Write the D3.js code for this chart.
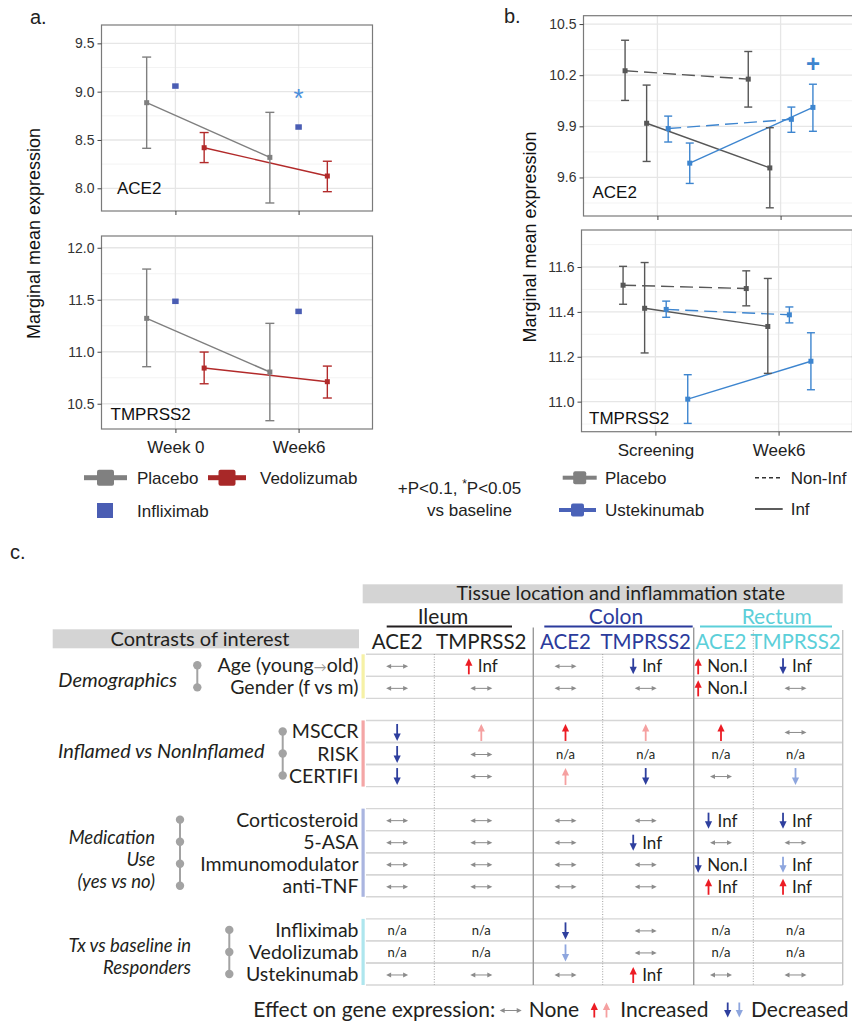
<!DOCTYPE html>
<html><head><meta charset="utf-8">
<script src="https://cdn.jsdelivr.net/npm/d3@7"></script>
<style>body{margin:0;background:#fff}svg{display:block}</style>
</head><body>
<svg id="c" width="852" height="1024"></svg>
<script>
// ---------------- DATA: panel a ----------------
const aTimes = ["Week 0", "Week6"];
const aSeries = ["Placebo", "Infliximab", "Vedolizumab"];
const aAce2Mean = [[8.886, 8.32], [9.058, 8.634], [8.42, 8.127]];
const aAce2Low  = [[8.414, 7.848], [null, null], [8.266, 7.965]];
const aAce2High = [[9.358, 8.786], [null, null], [8.577, 8.28]];
const aTmpMean = [[11.321, 10.805], [11.485, 11.388], [10.843, 10.712]];
const aTmpLow  = [[10.856, 10.337], [null, null], [10.692, 10.555]];
const aTmpHigh = [[11.795, 11.273], [null, null], [10.997, 10.862]];
const aAce2Ticks = [8.0, 8.5, 9.0, 9.5];
const aAce2Minor = [8.25, 8.75, 9.25];
const aTmpTicks = [10.5, 11.0, 11.5, 12.0];
const aTmpMinor = [10.75, 11.25, 11.75];
const aSig = [{gene: "ACE2", series: 1, time: 1, mark: "*", value: 9.0}];

// ---------------- DATA: panel b ----------------
const bTimes = ["Screening", "Week6"];
const bSeries = ["Placebo Non-Inf", "Placebo Inf", "Ustekinumab Non-Inf", "Ustekinumab Inf"];
const bAce2Mean = [[10.226, 10.177], [9.918, 9.656], [9.887, 9.941], [9.684, 10.011]];
const bAce2Low  = [[10.052, 10.013], [9.694, 9.422], [9.808, 9.865], [9.565, 9.871]];
const bAce2High = [[10.405, 10.339], [10.142, 9.892], [9.96, 10.013], [9.802, 10.147]];
const bTmpMean = [[11.519, 11.504], [11.416, 11.335], [11.411, 11.387], [11.011, 11.18]];
const bTmpLow  = [[11.434, 11.427], [11.217, 11.126], [11.376, 11.351], [10.903, 11.053]];
const bTmpHigh = [[11.603, 11.583], [11.62, 11.549], [11.448, 11.422], [11.12, 11.307]];
const bAce2Ticks = [9.6, 9.9, 10.2, 10.5];
const bAce2Minor = [9.45, 9.75, 10.05, 10.35];
const bTmpTicks = [11.0, 11.2, 11.4, 11.6];
const bTmpMinor = [10.9, 11.1, 11.3, 11.5, 11.7];
const bSig = [{gene: "ACE2", series: 3, time: 1, mark: "+", value: 10.263}];

// ---------------- DATA: panel c ----------------
const tissues = ["Ileum", "Colon", "Rectum"];
const genes = ["ACE2", "TMPRSS2"];
const contrastGroupLines = [["Demographics"], ["Inflamed vs NonInflamed"], ["Medication", "Use", "(yes vs no)"], ["Tx vs baseline in", "Responders"]];
const contrastRows = ["Age (young→old)", "Gender (f vs m)", "MSCCR", "RISK", "CERTIFI", "Corticosteroid", "5-ASA", "Immunomodulator", "anti-TNF", "Infliximab", "Vedolizumab", "Ustekinumab"];
const rowGroup = [0, 0, 1, 1, 1, 2, 2, 2, 2, 3, 3, 3];
// effect codes: none, na, up, upL (light), down, downL (light); ":label" adds text
const cellEffects = [
  ["none", "up:Inf", "none", "down:Inf", "up:Non.I", "down:Inf"],
  ["none", "none", "none", "none", "up:Non.I", "none"],
  ["down", "upL", "up", "upL", "up", "none"],
  ["down", "none", "na", "na", "na", "na"],
  ["down", "none", "upL", "down", "none", "downL"],
  ["none", "none", "none", "none", "down:Inf", "down:Inf"],
  ["none", "none", "none", "down:Inf", "none", "none"],
  ["none", "none", "none", "none", "down:Non.I", "downL:Inf"],
  ["none", "none", "none", "none", "up:Inf", "up:Inf"],
  ["na", "na", "down", "none", "na", "na"],
  ["na", "na", "downL", "none", "na", "na"],
  ["none", "none", "none", "up:Inf", "none", "none"]
];

// ---------------- drawing ----------------
const svg = d3.select("#c");
const SANS = "'Liberation Sans', Arial, sans-serif";
const TF = "Lato, 'Open Sans', sans-serif";

function panel(cfg) {
  const g = svg.append("g");
  const x = d3.scalePoint().domain(cfg.times).range([cfg.x0, cfg.x1]).padding(0.6);
  const y = d3.scaleLinear().domain(cfg.domain).range([cfg.y1, cfg.y0]);
  const k = cfg.mean.length, step = x.step();
  const off = i => (i - (k - 1) / 2) * 0.7 / k * step;
  g.append("rect").attr("x", cfg.x0).attr("y", cfg.y0).attr("width", cfg.x1 - cfg.x0).attr("height", cfg.y1 - cfg.y0).attr("fill", "#fff");
  g.selectAll(".mn").data(cfg.minor).join("line")
    .attr("x1", cfg.x0).attr("x2", cfg.x1).attr("y1", d => y(d)).attr("y2", d => y(d))
    .attr("stroke", "#f0f0f0").attr("stroke-width", 0.8);
  g.selectAll(".mj").data(cfg.ticks).join("line")
    .attr("x1", cfg.x0).attr("x2", cfg.x1).attr("y1", d => y(d)).attr("y2", d => y(d))
    .attr("stroke", "#e6e6e6").attr("stroke-width", 1.3);
  g.selectAll(".vx").data(cfg.times).join("line")
    .attr("x1", d => x(d)).attr("x2", d => x(d)).attr("y1", cfg.y0).attr("y2", cfg.y1)
    .attr("stroke", "#e6e6e6").attr("stroke-width", 1.3);
  // lines
  cfg.mean.forEach((m, i) => {
    if (!cfg.lines[i]) return;
    const pts = cfg.times.map((t, j) => [x(t) + off(i), y(m[j])]);
    g.append("path").attr("d", d3.line()(pts)).attr("fill", "none")
      .attr("stroke", cfg.colors[i]).attr("stroke-width", 1.4)
      .attr("stroke-dasharray", cfg.dash[i] ? "13,6" : null);
  });
  // error bars
  cfg.mean.forEach((m, i) => {
    cfg.times.forEach((t, j) => {
      const lo = cfg.low[i][j], hi = cfg.high[i][j];
      if (lo == null) return;
      const cx = x(t) + off(i);
      const eg = g.append("g").attr("stroke", cfg.colors[i]).attr("stroke-width", 1.4);
      eg.append("line").attr("x1", cx).attr("x2", cx).attr("y1", y(lo)).attr("y2", y(hi));
      eg.append("line").attr("x1", cx - cfg.cap).attr("x2", cx + cfg.cap).attr("y1", y(lo)).attr("y2", y(lo));
      eg.append("line").attr("x1", cx - cfg.cap).attr("x2", cx + cfg.cap).attr("y1", y(hi)).attr("y2", y(hi));
    });
  });
  // points
  cfg.mean.forEach((m, i) => {
    const s = cfg.pt[i];
    g.selectAll(null).data(cfg.times).join("rect")
      .attr("x", (t) => x(t) + off(i) - s[0] / 2)
      .attr("y", (t, j) => y(m[j]) - s[1] / 2)
      .attr("width", s[0]).attr("height", s[1]).attr("fill", cfg.colors[i]);
  });
  // significance marks
  (cfg.sig || []).forEach(sg => {
    const cx = x(cfg.times[sg.time]) + off(sg.series);
    const fs = sg.mark === "*" ? 26 : 24;
    const yOff = sg.mark === "*" ? 0.58 * fs : 0.33 * fs;
    g.append("text").attr("x", cx).attr("y", y(sg.value) + yOff).attr("text-anchor", "middle")
      .attr("font-family", SANS).attr("font-size", fs).attr("font-weight", sg.mark === "+" ? "bold" : "normal")
      .attr("fill", cfg.sigColor).text(sg.mark);
  });
  // border
  g.append("rect").attr("x", cfg.x0).attr("y", cfg.y0).attr("width", cfg.x1 - cfg.x0).attr("height", cfg.y1 - cfg.y0)
    .attr("fill", "none").attr("stroke", "#7a7a7a").attr("stroke-width", 1.2);
  // axes
  const ya = g.append("g").attr("transform", `translate(${cfg.x0},0)`)
    .call(d3.axisLeft(y).tickValues(cfg.ticks).tickFormat(d3.format(".1f")).tickSize(4).tickPadding(3));
  ya.select(".domain").remove();
  ya.selectAll("text").attr("font-family", SANS).attr("font-size", 14).attr("fill", "#333");
  ya.selectAll("line").attr("stroke", "#444");
  const xa = g.append("g").attr("transform", `translate(0,${cfg.y1})`)
    .call(d3.axisBottom(x).tickSize(4).tickPadding(8));
  xa.select(".domain").remove();
  xa.selectAll("line").attr("stroke", "#444");
  if (cfg.showX) xa.selectAll("text").attr("font-family", SANS).attr("font-size", 17).attr("fill", "#222");
  else xa.selectAll("text").remove();
  // gene label
  g.append("text").attr("x", cfg.x0 + cfg.lab[0]).attr("y", cfg.y1 - cfg.lab[1])
    .attr("font-family", SANS).attr("font-size", 17).attr("fill", "#111").text(cfg.gene);
}

const aCol = ["#7f7f7f", "#4a5db3", "#b22a2a"];
const aPt = [[5, 5], [6.5, 5.5], [5, 5]];
panel({times: aTimes, mean: aAce2Mean, low: aAce2Low, high: aAce2High, lines: [1, 0, 1], dash: [0, 0, 0],
  colors: aCol, pt: aPt, cap: 4.5, x0: 101.5, x1: 372.5, y0: 25, y1: 211, domain: [7.765, 9.69],
  ticks: aAce2Ticks, minor: aAce2Minor, showX: false, gene: "ACE2", lab: [15.5, 17],
  sig: aSig, sigColor: "#4a8fdb"});
panel({times: aTimes, mean: aTmpMean, low: aTmpLow, high: aTmpHigh, lines: [1, 0, 1], dash: [0, 0, 0],
  colors: aCol, pt: aPt, cap: 4.5, x0: 101.5, x1: 372.5, y0: 236, y1: 429, domain: [10.257, 12.113],
  ticks: aTmpTicks, minor: aTmpMinor, showX: true, gene: "TMPRSS2", lab: [9, 9]});

const bCol = ["#575757", "#575757", "#3d85cf", "#3d85cf"];
const bPt = [[5, 5], [5, 5], [5, 5], [5, 5]];
panel({times: bTimes, mean: bAce2Mean, low: bAce2Low, high: bAce2High, lines: [1, 1, 1, 1], dash: [1, 0, 1, 0],
  colors: bCol, pt: bPt, cap: 4, x0: 583.5, x1: 854.5, y0: 15.7, y1: 216, domain: [9.374, 10.549],
  ticks: bAce2Ticks, minor: bAce2Minor, showX: false, gene: "ACE2", lab: [9, 18],
  sig: bSig, sigColor: "#3d85cf"});
panel({times: bTimes, mean: bTmpMean, low: bTmpLow, high: bTmpHigh, lines: [1, 1, 1, 1], dash: [1, 0, 1, 0],
  colors: bCol, pt: bPt, cap: 4, x0: 581.5, x1: 852.5, y0: 230, y1: 431.7, domain: [10.866, 11.765],
  ticks: bTmpTicks, minor: bTmpMinor, showX: true, gene: "TMPRSS2", lab: [7.5, 7.4]});

// axis titles and panel letters
function rotTitle(x, y) {
  svg.append("text").attr("transform", `translate(${x},${y}) rotate(-90)`).attr("text-anchor", "middle")
    .attr("font-family", SANS).attr("font-size", 18).attr("fill", "#111").text("Marginal mean expression");
}
rotTitle(40, 233.5);
rotTitle(536, 237);
function letter(x, y, t) {
  svg.append("text").attr("x", x).attr("y", y).attr("font-family", SANS).attr("font-size", 20).attr("fill", "#222").text(t);
}
letter(30, 24, "a.");
letter(504, 23, "b.");
letter(10, 559, "c.");

// legends (panels a, b)
const lg = svg.append("g").attr("font-family", SANS).attr("font-size", 17).attr("fill", "#222");
function key(x0, x1, cy, color, sw, sh, lw) {
  lg.append("rect").attr("x", x0).attr("y", cy - lw / 2).attr("width", x1 - x0).attr("height", lw).attr("fill", color);
  lg.append("rect").attr("x", (x0 + x1) / 2 - sw / 2).attr("y", cy - sh / 2).attr("width", sw).attr("height", sh).attr("rx", 2).attr("fill", color);
}
key(84, 127, 477.7, "#808080", 17, 16, 5);
lg.append("text").attr("x", 137).attr("y", 483.8).text(aSeries[0]);
key(208, 246, 477.7, "#a82828", 17, 16, 5);
lg.append("text").attr("x", 260).attr("y", 483.8).text(aSeries[2]);
lg.append("rect").attr("x", 97).attr("y", 503).attr("width", 16).attr("height", 15).attr("fill", "#4a5db3");
lg.append("text").attr("x", 137).attr("y", 516.5).text(aSeries[1]);

const note = lg.append("text").attr("x", 459.5).attr("y", 494).attr("text-anchor", "middle");
note.append("tspan").text("+P<0.1, ");
note.append("tspan").attr("dy", -6).attr("font-size", 12).text("*");
note.append("tspan").attr("dy", 6).text("P<0.05");
lg.append("text").attr("x", 469.5).attr("y", 516).attr("text-anchor", "middle").text("vs baseline");

key(562.7, 596.7, 477.7, "#808080", 13, 13, 4);
lg.append("text").attr("x", 605).attr("y", 483.8).text("Placebo");
key(559, 596, 510, "#4a62b8", 13, 13, 4);
lg.append("text").attr("x", 605).attr("y", 516).text("Ustekinumab");
lg.append("line").attr("x1", 755).attr("x2", 780).attr("y1", 477.7).attr("y2", 477.7).attr("stroke", "#333").attr("stroke-width", 1.6).attr("stroke-dasharray", "4,3");
lg.append("text").attr("x", 790.7).attr("y", 483.8).text("Non-Inf");
lg.append("line").attr("x1", 755).attr("x2", 782.7).attr("y1", 509).attr("y2", 509).attr("stroke", "#333").attr("stroke-width", 1.6);
lg.append("text").attr("x", 790.7).attr("y", 515).text("Inf");

// ---------------- table (panel c) ----------------
const T = svg.append("g").attr("font-family", TF).attr("fill", "#231f20");
const colEdges = [365, 434.3, 533.3, 602.7, 693.7, 753.3, 842.7];
const tissueColors = ["#231f20", "#2b3b9c", "#5ccfd9"];
const effColor = {up: "#ec1c24", upL: "#f5a0a0", down: "#2e3f9e", downL: "#8ea6de", none: "#8c8c8c"};
const groupBarColors = ["#f6f1a6", "#f4a6a6", "#aab5e0", "#aee6ee"];
const groupDotX = [197.3, 282.7, 180, 229.3];
const groupLabelX = [58.3, 58, 155, 191];
const groupLabelY = [[680], [750.7], [837.3, 859.6, 881.9], [945.2, 967.5]];
const groupLabelSize = [20, 20, 18.5, 18.5];

const slots = [];
contrastGroupLines.forEach((gl, gi) => {
  if (gi > 0) slots.push("gap" + gi);
  contrastRows.forEach((r, ri) => { if (rowGroup[ri] === gi) slots.push(r); });
});
const yRow = d3.scaleBand().domain(slots).range([654.3, 985]);
const bw = yRow.bandwidth();
const rc = r => yRow(r) + bw / 2;
const colCenter = i => (colEdges[i] + colEdges[i + 1]) / 2 - 2.5;

// header bars
T.append("rect").attr("x", 362.7).attr("y", 584.3).attr("width", 480).attr("height", 19).attr("fill", "#d4d4d4");
T.append("text").attr("x", 620.7).attr("y", 600.3).attr("text-anchor", "middle").attr("font-size", 19.5).text("Tissue location and inflammation state");
T.append("rect").attr("x", 52.7).attr("y", 629.3).attr("width", 306.3).attr("height", 19).attr("fill", "#d4d4d4");
T.append("text").attr("x", 200).attr("y", 645.5).attr("text-anchor", "middle").attr("font-size", 20).text("Contrasts of interest");

const tissueCx = [443, 616, 776.7];
const underline = [[386.7, 512], [544.3, 692.7], [700, 832]];
tissues.forEach((t, i) => {
  T.append("text").attr("x", tissueCx[i]).attr("y", 623.5).attr("text-anchor", "middle").attr("font-size", 21)
    .attr("fill", tissueColors[i]).text(t);
  T.append("line").attr("x1", underline[i][0]).attr("x2", underline[i][1]).attr("y1", 626.5).attr("y2", 626.5)
    .attr("stroke", tissueColors[i]).attr("stroke-width", 2.2);
  genes.forEach((gn, j) => {
    const ci = i * 2 + j;
    T.append("text").attr("x", colCenter(ci)).attr("y", 649).attr("text-anchor", "middle").attr("font-size", 20.5)
      .attr("fill", tissueColors[i]).text(gn);
  });
});

// horizontal grid lines
const gridG = T.append("g").attr("stroke", "#d6d6d6").attr("stroke-width", 1.4);
contrastRows.forEach(r => {
  [yRow(r), yRow(r) + bw].forEach(yy => {
    gridG.append("line").attr("x1", 366).attr("x2", colEdges[6]).attr("y1", yy).attr("y2", yy);
  });
});
// vertical lines
[[colEdges[1], 654], [colEdges[3], 654], [colEdges[5], 630]].forEach(([xx, y0]) => {
  T.append("line").attr("x1", xx).attr("x2", xx).attr("y1", y0).attr("y2", 985)
    .attr("stroke", "#a0a0a0").attr("stroke-width", 1).attr("stroke-dasharray", "1,1.6");
});
[colEdges[2], colEdges[4]].forEach(xx => {
  T.append("line").attr("x1", xx).attr("x2", xx).attr("y1", 627.5).attr("y2", 985)
    .attr("stroke", "#9a9a9a").attr("stroke-width", 1.4);
});
T.append("line").attr("x1", colEdges[6]).attr("x2", colEdges[6]).attr("y1", 630).attr("y2", 985)
  .attr("stroke", "#c4c4c4").attr("stroke-width", 1.4);

// group bars, dots, labels
contrastGroupLines.forEach((gl, gi) => {
  const rows = contrastRows.filter((r, ri) => rowGroup[ri] === gi);
  const y0 = yRow(rows[0]), y1 = yRow(rows[rows.length - 1]) + bw;
  T.append("rect").attr("x", 361.5).attr("y", y0).attr("width", 3.2).attr("height", y1 - y0).attr("fill", groupBarColors[gi]);
  const dx = groupDotX[gi];
  T.append("line").attr("x1", dx).attr("x2", dx).attr("y1", rc(rows[0])).attr("y2", rc(rows[rows.length - 1]))
    .attr("stroke", "#a3a3a3").attr("stroke-width", 2);
  rows.forEach(r => T.append("circle").attr("cx", dx).attr("cy", rc(r)).attr("r", 4.2).attr("fill", "#a3a3a3"));
  const anchor = gl.length > 1 ? "end" : "start";
  const fs = groupLabelSize[gi];
  const lt = T.append("text").attr("text-anchor", anchor).attr("font-size", fs).attr("font-style", "italic");
  gl.forEach((line, li) => {
    lt.append("tspan").attr("x", groupLabelX[gi]).attr("y", groupLabelY[gi][li] + fs * 0.35).text(line);
  });
});

// row labels
contrastRows.forEach((r, ri) => {
  const t = T.append("text").attr("x", 358.5).attr("y", rc(r) + 7).attr("text-anchor", "end").attr("font-size", 19.5);
  if (r.includes("→")) {
    const parts = r.split("→");
    t.append("tspan").text(parts[0]);
    t.append("tspan").attr("fill", "#999").attr("font-size", 13).text("→");
    t.append("tspan").text(parts[1]);
  } else t.text(r);
});

// arrow helpers
function vArrow(g, cx, cy, dir, color, len) {
  len = len || 16;
  const tip = cy - dir * len / 2, base = cy + dir * len / 2, head = 7.5, hw = 3.6;
  g.append("line").attr("x1", cx).attr("x2", cx).attr("y1", base).attr("y2", tip + dir * head * 0.6)
    .attr("stroke", color).attr("stroke-width", 1.8);
  g.append("path").attr("d", `M${cx},${tip}L${cx - hw},${tip + dir * head}L${cx + hw},${tip + dir * head}Z`).attr("fill", color);
}
function hArrow(g, cx, cy, w, color) {
  w = w || 22; color = color || effColor.none;
  const x0 = cx - w / 2, x1 = cx + w / 2, hl = 5, hh = 2.4;
  g.append("line").attr("x1", x0 + 2).attr("x2", x1 - 2).attr("y1", cy).attr("y2", cy).attr("stroke", color).attr("stroke-width", 1);
  g.append("path").attr("d", `M${x0},${cy}L${x0 + hl},${cy - hh}L${x0 + hl},${cy + hh}Z`).attr("fill", color);
  g.append("path").attr("d", `M${x1},${cy}L${x1 - hl},${cy - hh}L${x1 - hl},${cy + hh}Z`).attr("fill", color);
}

// cells
const cellG = T.append("g");
cellEffects.forEach((row, ri) => {
  const cy = rc(contrastRows[ri]) + 1;
  row.forEach((code, ci) => {
    const cx = colCenter(ci);
    const [eff, lab] = code.split(":");
    if (eff === "na") {
      cellG.append("text").attr("x", cx).attr("y", cy + 4.5).attr("text-anchor", "middle").attr("font-size", 13).text("n/a");
    } else if (eff === "none") {
      hArrow(cellG, cx, cy, 22);
    } else {
      const dir = eff.startsWith("up") ? 1 : -1;
      if (lab) {
        const tx = cellG.append("text").attr("y", cy + 6).attr("font-size", 17).text(lab);
        const tw = tx.node().getComputedTextLength();
        const total = 8 + 5 + tw;
        const sx = cx - total / 2;
        tx.attr("x", sx + 13);
        vArrow(cellG, sx + 4, cy, dir, effColor[eff], 16);
      } else {
        vArrow(cellG, cx, cy, dir, effColor[eff], 17);
      }
    }
  });
});

// effect legend
const LG = T.append("g");
const ly = 1017;
LG.append("text").attr("x", 253.3).attr("y", ly).attr("font-size", 21).text("Effect on gene expression:");
hArrow(LG, 510.7, 1010.5, 22);
LG.append("text").attr("x", 528.7).attr("y", ly).attr("font-size", 21).text("None");
vArrow(LG, 594.3, 1010, 1, effColor.up, 15);
vArrow(LG, 606.5, 1010, 1, effColor.upL, 15);
LG.append("text").attr("x", 620.3).attr("y", ly).attr("font-size", 21).text("Increased");
vArrow(LG, 727.7, 1010, -1, effColor.down, 15);
vArrow(LG, 739.3, 1010, -1, effColor.downL, 15);
LG.append("text").attr("x", 751).attr("y", ly).attr("font-size", 21).text("Decreased");
</script>
</body></html>
